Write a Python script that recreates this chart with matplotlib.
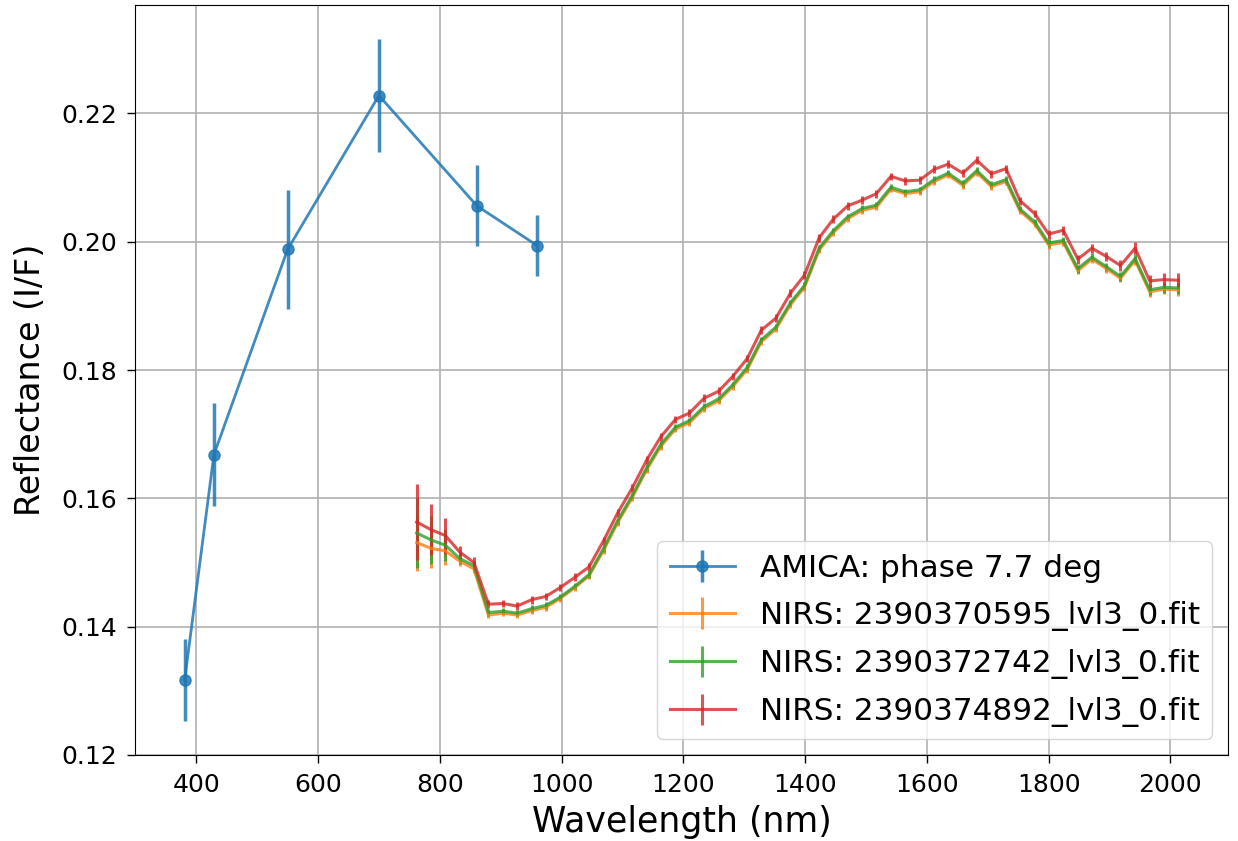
import numpy as np
import matplotlib
matplotlib.use("Agg")
import matplotlib.pyplot as plt

# AMICA filter photometry
amica_wl = [381, 429, 550, 700, 861, 960]
amica_refl = [0.1317, 0.1668, 0.1988, 0.2228, 0.2056, 0.1994]
amica_err = [0.0064, 0.0080, 0.0093, 0.0088, 0.0063, 0.0047]

# NIRS channels (nm)
nirs_wl = [762, 786, 809, 833, 856, 880, 904, 927, 951, 974,
           998, 1022, 1045, 1069, 1092, 1116, 1140, 1163, 1187, 1210,
           1234, 1258, 1281, 1305, 1328, 1352, 1376, 1399, 1423, 1446,
           1470, 1494, 1517, 1541, 1564, 1588, 1612, 1635, 1659, 1682,
           1706, 1730, 1753, 1777, 1800, 1824, 1848, 1871, 1895, 1918,
           1942, 1966, 1989, 2013]

refl_0595 = [0.1531, 0.1522, 0.1518, 0.1502, 0.1490, 0.1418, 0.1421, 0.1418, 0.1425, 0.1430,
             0.1444, 0.1461, 0.1479, 0.1519, 0.1562, 0.1601, 0.1645, 0.1681, 0.1708, 0.1718,
             0.1740, 0.1752, 0.1774, 0.1801, 0.1844, 0.1864, 0.1902, 0.1929, 0.1987, 0.2014,
             0.2036, 0.2049, 0.2054, 0.2082, 0.2075, 0.2078, 0.2094, 0.2104, 0.2088, 0.2108,
             0.2086, 0.2094, 0.2048, 0.2028, 0.1995, 0.1999, 0.1955, 0.1973, 0.1958, 0.1943,
             0.1971, 0.1922, 0.1926, 0.1925]
refl_2742 = [0.1546, 0.1535, 0.1527, 0.1506, 0.1495, 0.1422, 0.1424, 0.1421, 0.1428, 0.1433,
             0.1446, 0.1463, 0.1481, 0.1522, 0.1565, 0.1604, 0.1648, 0.1684, 0.1711, 0.1721,
             0.1743, 0.1755, 0.1777, 0.1804, 0.1847, 0.1867, 0.1905, 0.1932, 0.1990, 0.2017,
             0.2039, 0.2052, 0.2057, 0.2085, 0.2078, 0.2081, 0.2097, 0.2107, 0.2091, 0.2111,
             0.2089, 0.2097, 0.2051, 0.2031, 0.1998, 0.2002, 0.1958, 0.1976, 0.1961, 0.1946,
             0.1974, 0.1925, 0.1929, 0.1928]
refl_4892 = [0.1563, 0.1551, 0.1542, 0.1516, 0.1500, 0.1435, 0.1436, 0.1432, 0.1442, 0.1447,
             0.1461, 0.1477, 0.1493, 0.1534, 0.1577, 0.1616, 0.1660, 0.1696, 0.1723, 0.1733,
             0.1756, 0.1767, 0.1790, 0.1818, 0.1862, 0.1881, 0.1920, 0.1948, 0.2006, 0.2035,
             0.2056, 0.2065, 0.2075, 0.2102, 0.2095, 0.2096, 0.2113, 0.2121, 0.2107, 0.2127,
             0.2106, 0.2114, 0.2064, 0.2044, 0.2012, 0.2018, 0.1973, 0.1990, 0.1977, 0.1963,
             0.1990, 0.1939, 0.1941, 0.1940]

err_0595 = [0.0045, 0.0030, 0.0022, 0.0008, 0.0007, 0.0005, 0.0005, 0.0005, 0.0005, 0.0005,
            0.0005, 0.0005, 0.0005, 0.0005, 0.0005, 0.0005, 0.0005, 0.0005, 0.0005, 0.0005,
            0.0005, 0.0005, 0.0005, 0.0005, 0.0005, 0.0005, 0.0005, 0.0005, 0.0005, 0.0005,
            0.0005, 0.0005, 0.0005, 0.0005, 0.0005, 0.0005, 0.0005, 0.0005, 0.0005, 0.0005,
            0.0005, 0.0005, 0.0005, 0.0005, 0.0006, 0.0006, 0.0006, 0.0006, 0.0006, 0.0006,
            0.0007, 0.0008, 0.0008, 0.0009]
err_2742 = [0.0055, 0.0037, 0.0025, 0.0009, 0.0007, 0.0005, 0.0005, 0.0005, 0.0005, 0.0005,
            0.0005, 0.0005, 0.0005, 0.0005, 0.0005, 0.0005, 0.0005, 0.0005, 0.0005, 0.0005,
            0.0005, 0.0005, 0.0005, 0.0005, 0.0005, 0.0005, 0.0005, 0.0005, 0.0005, 0.0005,
            0.0005, 0.0005, 0.0005, 0.0005, 0.0005, 0.0005, 0.0005, 0.0005, 0.0005, 0.0005,
            0.0005, 0.0005, 0.0005, 0.0005, 0.0006, 0.0006, 0.0006, 0.0006, 0.0006, 0.0007,
            0.0007, 0.0008, 0.0009, 0.0010]
err_4892 = [0.0059, 0.0040, 0.0028, 0.0010, 0.0008, 0.0006, 0.0006, 0.0006, 0.0006, 0.0006,
            0.0006, 0.0006, 0.0006, 0.0006, 0.0006, 0.0006, 0.0006, 0.0006, 0.0006, 0.0006,
            0.0006, 0.0006, 0.0006, 0.0006, 0.0006, 0.0006, 0.0006, 0.0006, 0.0006, 0.0006,
            0.0006, 0.0006, 0.0006, 0.0006, 0.0006, 0.0006, 0.0006, 0.0006, 0.0006, 0.0006,
            0.0006, 0.0006, 0.0006, 0.0006, 0.0007, 0.0007, 0.0007, 0.0007, 0.0007, 0.0008,
            0.0009, 0.0009, 0.0010, 0.0011]

NIRS_RUNS = [
    ("2390370595", refl_0595, err_0595, "#ff7f0e"),
    ("2390372742", refl_2742, err_2742, "#2ca02c"),
    ("2390374892", refl_4892, err_4892, "#d62728"),
]

fig = plt.figure(figsize=(12.38, 8.41), dpi=100)
ax = fig.add_axes([135 / 1238, 1 - 755 / 841, 1093 / 1238, 750 / 841])

ax.errorbar(amica_wl, amica_refl, yerr=amica_err, fmt="o-", color="#1f77b4",
            markersize=8, linewidth=2, elinewidth=2.5, alpha=0.85,
            label="AMICA: phase 7.7 deg")
for name, refl, err, color in NIRS_RUNS:
    ax.errorbar(nirs_wl, refl, yerr=err, color=color, linewidth=2.2,
                elinewidth=2.2, alpha=0.8,
                label="NIRS: {}_lvl3_0.fit".format(name))

ax.grid(True, color="#b0b0b0", linewidth=1.2)
ax.set_axisbelow(True)
ax.set_xlabel("Wavelength (nm)", fontsize=25, labelpad=6)
ax.set_ylabel("Reflectance (I/F)", fontsize=24, labelpad=10)
ax.tick_params(labelsize=18, length=6, width=1, pad=7)
ax.set_yticks([0.12, 0.14, 0.16, 0.18, 0.20, 0.22])
ax.set_yticklabels(["0.12", "0.14", "0.16", "0.18", "0.20", "0.22"])
ax.legend(loc="lower right", fontsize=22.4, framealpha=0.8, borderaxespad=0.5,
          handlelength=2.1, labelspacing=0.58)

fig.savefig("out.png", dpi=100)
